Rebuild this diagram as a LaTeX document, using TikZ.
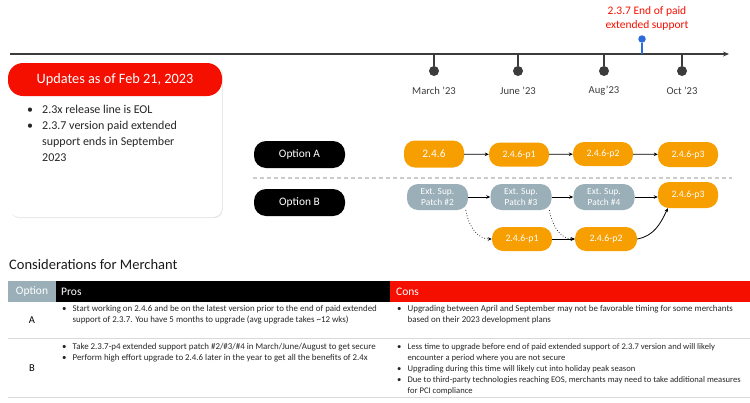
\documentclass[tikz,border=0pt]{standalone}
\usepackage{fontspec}
\setmainfont{Carlito}
\usetikzlibrary{arrows.meta,shadows}
\definecolor{aorange}{HTML}{F79E00}
\definecolor{agray}{HTML}{9AAFB8}
\definecolor{ared}{HTML}{F50F00}
\definecolor{ablue}{HTML}{2B6BDA}
\definecolor{adark}{HTML}{3C3C3C}
\definecolor{aline}{HTML}{D9D9D9}
\tikzset{
  tline/.style={draw=adark, line width=1.4pt},
  tdot/.style={circle, fill=adark, inner sep=0pt, minimum size=10pt},
  tlabel/.style={font=\fontsize{10.6}{12}\selectfont, text=adark},
  pill/.style={rounded corners=12pt, fill=black, text=white, minimum width=91pt, minimum height=27pt, inner sep=0pt, font=\fontsize{11.4}{13}\selectfont},
  obox/.style={rounded corners=11pt, fill=aorange, text=white, minimum width=60pt, minimum height=24pt, inner sep=0pt, font=\fontsize{9.8}{11}\selectfont},
  gbox/.style={rounded corners=11pt, fill=agray, text=white, minimum width=61pt, minimum height=26pt, inner sep=0pt, align=center, font=\fontsize{9.4}{10.5}\selectfont},
  flow/.style={draw=black, line width=0.8pt, -{Stealth[length=4pt,width=3.5pt]}},
  dflow/.style={draw=black, line width=0.7pt, dotted, -{Stealth[length=4pt,width=3.5pt]}},
  cell/.style={font=\fontsize{8.9}{11}\selectfont, align=left, anchor=north west, inner sep=0pt, text=black!85},
  hcell/.style={font=\fontsize{11.5}{13}\selectfont, text=white, inner sep=0pt},
}
\begin{document}
\begin{tikzpicture}[x=1pt,y=-1pt]
\useasboundingbox (0,0) rectangle (750,402);
% ---------- timeline
\coordinate (tl0) at (10,54);
\coordinate (tl1) at (729,54);
\draw[tline, -{Stealth[length=6pt,width=5pt]}] (tl0) -- (tl1);
\foreach \n/\x/\t in {m1/434/March ’23, m2/518/June ’23, m3/604/Aug’23, m4/682/Oct ’23}{
  \coordinate (\n top) at (\x,54);
  \node[tdot] (\n) at (\x,71) {};
  \draw[tline] (\n top) -- (\n);
  \node[tlabel] (\n lab) at (\x,91) {\t};
}
\coordinate (eostop) at (642,54);
\node[circle, fill=ablue, inner sep=0pt, minimum size=7.5pt] (eos) at (642,39) {};
\draw[draw=ablue, line width=1.4pt] (eos) -- (eostop);
\node[text=ared, align=center, font=\fontsize{11.5}{14}\selectfont] (eoslab) at (647,18) {2.3.7 End of paid\\extended support};
% ---------- update box
\node[fill=white, rounded corners=9pt, minimum width=212pt, minimum height=153pt, inner sep=0pt,
      drop shadow={shadow xshift=0.8pt, shadow yshift=-1.2pt, opacity=0.25, fill=black!40}] (ubox) at (116,140.5) {};
\node[fill=ared, rounded corners=15pt, minimum width=214pt, minimum height=33pt, inner sep=0pt, text=white,
      font=\fontsize{14.3}{16}\selectfont] (uhead) at (115,79.5) {Updates as of Feb 21, 2023};
\node[anchor=north west, inner sep=0pt, font=\fontsize{12}{15.8}\selectfont, text=black!85] (ubul) at (27,102.5)
  {\begin{tabular}{@{}l@{\hspace{9pt}}l@{}}
   • & 2.3x release line is EOL\\
   • & 2.3.7 version paid extended\\
     & support ends in September\\
     & 2023
   \end{tabular}};
% ---------- options
\node[pill] (optA) at (299.5,154.5) {Option A};
\node[pill] (optB) at (299.5,202.5) {Option B};
\coordinate (sep0) at (253,178);
\coordinate (sep1) at (732,178);
\draw[draw=black!20, line width=1.2pt, dash pattern=on 4pt off 3pt] (sep0) -- (sep1);
% row A
\node[obox, minimum height=27pt, font=\fontsize{11.4}{13}\selectfont] (a0) at (434,154) {2.4.6};
\node[obox] (a1) at (519,154.5) {2.4.6-p1};
\node[obox] (a2) at (603,154) {2.4.6-p2};
\node[obox, minimum height=25pt] (a3) at (688,154.5) {2.4.6-p3};
\draw[flow] (a0) -- (a1);
\draw[flow] (a1) -- (a2);
\draw[flow] (a2) -- (a3);
% row B
\node[gbox] (b2) at (437.5,197) {Ext. Sup.\\Patch \#2};
\node[gbox] (b3) at (521,197) {Ext. Sup.\\Patch \#3};
\node[gbox] (b4) at (604,197) {Ext. Sup.\\Patch \#4};
\node[obox, minimum height=26pt] (b5) at (688,195) {2.4.6-p3};
\node[obox] (q1) at (522,239) {2.4.6-p1};
\node[obox, minimum width=62pt] (q2) at (606,239) {2.4.6-p2};
\draw[flow] (b2) -- (b3);
\draw[flow] (b3) -- (b4);
\draw[flow] (b4.east) -- (b5.west |- b4.east);
\draw[dflow] (b2.-25) to[out=-80, in=180] (q1.west);
\draw[dflow] (b3.-25) to[out=-80, in=180] (q2.west);
\draw[flow] (q1) -- (q2);
\draw[flow] (q2.east) to[out=10, in=-115] ([xshift=10pt]b5.south west);
% ---------- considerations
\node[anchor=west, inner sep=0pt, font=\fontsize{14.5}{16}\selectfont, text=black!90] (ctitle) at (9,265) {Considerations for Merchant};
\node[fill=agray, minimum width=48pt, minimum height=21pt, inner sep=0pt] (hopt) at (32,291.5) {};
\node[fill=black, minimum width=334pt, minimum height=21pt, inner sep=0pt] (hpro) at (223,291.5) {};
\node[fill=ared, minimum width=360pt, minimum height=21pt, inner sep=0pt] (hcon) at (570,291.5) {};
\node[hcell] (hoptt) at (hopt) {Option};
\node[hcell, anchor=west] (hprot) at (61,291.5) {Pros};
\node[hcell, anchor=west] (hcont) at (396,291.5) {Cons};
\coordinate (r1a) at (8,338); \coordinate (r1b) at (750,338);
\coordinate (r2a) at (8,397.5); \coordinate (r2b) at (750,397.5);
\draw[draw=aline, line width=1pt] (r1a) -- (r1b);
\draw[draw=aline, line width=1pt] (r2a) -- (r2b);
\node[font=\fontsize{10.5}{12}\selectfont] (rowA) at (32,320) {A};
\node[font=\fontsize{10.5}{12}\selectfont] (rowB) at (32,368) {B};
\node[cell] (pA) at (62,304)
 {\begin{tabular}{@{}l@{\hspace{6pt}}l@{}}
  • & Start working on 2.4.6 and be on the latest version prior to the end of paid extended\\
    & support of 2.3.7. You have 5 months to upgrade (avg upgrade takes \textasciitilde 12 wks)
  \end{tabular}};
\node[cell] (pB) at (62,341.5)
 {\begin{tabular}{@{}l@{\hspace{6pt}}l@{}}
  • & Take 2.3.7-p4 extended support patch \#2/\#3/\#4 in March/June/August to get secure\\
  • & Perform high effort upgrade to 2.4.6 later in the year to get all the benefits of 2.4x
  \end{tabular}};
\node[cell] (cA) at (397,304)
 {\begin{tabular}{@{}l@{\hspace{6pt}}l@{}}
  • & Upgrading between April and September may not be favorable timing for some merchants\\
    & based on their 2023 development plans
  \end{tabular}};
\node[cell, font=\fontsize{8.6}{11}\selectfont] (cB) at (397,341.5)
 {\begin{tabular}{@{}l@{\hspace{6.2pt}}l@{}}
  • & Less time to upgrade before end of paid extended support of 2.3.7 version and will likely\\
    & encounter a period where you are not secure\\
  • & Upgrading during this time will likely cut into holiday peak season\\
  • & Due to third-party technologies reaching EOS, merchants may need to take additional measures\\
    & for PCI compliance
  \end{tabular}};
\end{tikzpicture}
\end{document}
